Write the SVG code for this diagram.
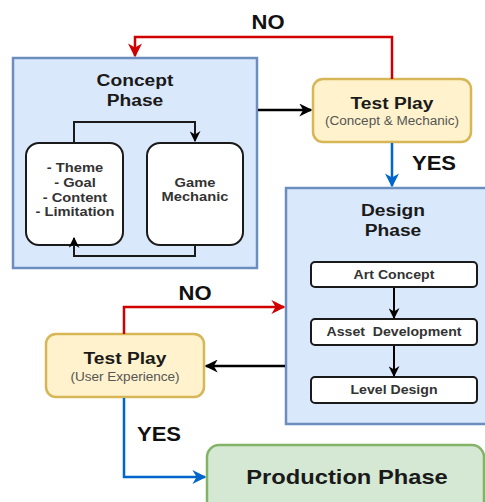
<svg xmlns="http://www.w3.org/2000/svg" width="485" height="502" viewBox="0 0 485 502">
<defs>
<marker id="ak" viewBox="0 0 10 10" refX="9" refY="5" markerWidth="13" markerHeight="13" orient="auto" markerUnits="userSpaceOnUse"><path d="M0,0 L10,5 L0,10 L3,5 Z" fill="#000"/></marker>
<marker id="ai" viewBox="0 0 10 10" refX="9" refY="5" markerWidth="11" markerHeight="11" orient="auto" markerUnits="userSpaceOnUse"><path d="M0,0 L10,5 L0,10 L3,5 Z" fill="#000"/></marker>
<marker id="ar" viewBox="0 0 10 10" refX="9" refY="5" markerWidth="14" markerHeight="14" orient="auto" markerUnits="userSpaceOnUse"><path d="M0,0 L10,5 L0,10 L3,5 Z" fill="#d00000"/></marker>
<marker id="au" viewBox="0 0 10 10" refX="9" refY="5" markerWidth="14" markerHeight="14" orient="auto" markerUnits="userSpaceOnUse"><path d="M0,0 L10,5 L0,10 L3,5 Z" fill="#0066cc"/></marker>
</defs>
<style>
text{font-family:"Liberation Sans",Arial,sans-serif;text-anchor:middle;dominant-baseline:central;fill:#1a1a1a}
.phase{fill:#dae8fc;stroke:#6c8ebf;stroke-width:2.5}
.test{fill:#fff2cc;stroke:#d6b656;stroke-width:2.5}
.prod{fill:#d5e8d4;stroke:#82b366;stroke-width:2.5}
.inner{fill:#fff;stroke:#1a1a1a;stroke-width:2}
.t1{font-size:17px;font-weight:bold}
.t2{font-size:12px;fill:#555}
.t3{font-size:13px;font-weight:bold;fill:#333}
.t4{font-size:12.5px;font-weight:bold;fill:#333}
.lbl{font-size:19.5px;font-weight:bold;fill:#111}
.c{fill:none;stroke-width:2.5}
.ci{fill:none;stroke-width:2}
</style>
<g id="concept">
<rect class="phase" x="13" y="58" width="244" height="210"/>
<text class="t1" transform="translate(135,80) scale(1.13,1)">Concept</text>
<text class="t1" transform="translate(135,100) scale(1.13,1)">Phase</text>
</g>
<g id="goals">
<rect class="inner" x="26" y="143" width="97" height="102" rx="13"/>
<text class="t3" transform="translate(75,167) scale(1.13,1)">- Theme</text>
<text class="t3" transform="translate(75,182) scale(1.13,1)">- Goal</text>
<text class="t3" transform="translate(75,197) scale(1.13,1)">- Content</text>
<text class="t3" transform="translate(75,211) scale(1.13,1)">- Limitation</text>
</g>
<g id="mechanic">
<rect class="inner" x="147" y="143" width="96" height="102" rx="13"/>
<text class="t3" transform="translate(195,182) scale(1.13,1)">Game</text>
<text class="t3" transform="translate(195,196) scale(1.13,1)">Mechanic</text>
</g>
<g id="test1">
<rect class="test" x="313" y="79" width="158" height="63" rx="10"/>
<text class="t1" transform="translate(392,103) scale(1.13,1)">Test Play</text>
<text class="t2" transform="translate(392,121) scale(1.13,1)">(Concept &amp; Mechanic)</text>
</g>
<g id="design">
<rect class="phase" x="286" y="188" width="210" height="236"/>
<text class="t1" transform="translate(393,210) scale(1.13,1)">Design</text>
<text class="t1" transform="translate(393,230) scale(1.13,1)">Phase</text>
</g>
<g id="art">
<rect class="inner" x="311" y="262" width="166" height="25" rx="4"/>
<text class="t4" transform="translate(394,275) scale(1.13,1)">Art Concept</text>
</g>
<g id="asset">
<rect class="inner" x="311" y="319" width="166" height="26" rx="4"/>
<text class="t4" transform="translate(394,332) scale(1.13,1)" xml:space="preserve">Asset  Development</text>
</g>
<g id="level">
<rect class="inner" x="311" y="377" width="166" height="26" rx="4"/>
<text class="t4" transform="translate(394,390) scale(1.13,1)">Level Design</text>
</g>
<g id="test2">
<rect class="test" x="46" y="334" width="158" height="63" rx="10"/>
<text class="t1" transform="translate(125,358) scale(1.13,1)">Test Play</text>
<text class="t2" transform="translate(125,377) scale(1.13,1)">(User Experience)</text>
</g>
<g id="production">
<rect class="prod" x="207" y="445" width="277" height="70" rx="12"/>
<text transform="translate(347,477) scale(1.13,1)" style="font-size:21px;font-weight:bold">Production Phase</text>
</g>
<g id="connectors">
<path class="c" d="M392,79 V37 H135 V56" stroke="#d00000" marker-end="url(#ar)"/>
<text class="lbl" transform="translate(268,22) scale(1.13,1)">NO</text>
<path class="c" d="M258,110 H311" stroke="#000" marker-end="url(#ak)"/>
<path class="c" d="M392,143 V186" stroke="#0066cc" marker-end="url(#au)"/>
<text class="lbl" transform="translate(434,163) scale(1.13,1)">YES</text>
<path class="ci" d="M74,142 V122 H195 V141" stroke="#1a1a1a" marker-end="url(#ai)"/>
<path class="ci" d="M195,246 V256 H74 V238" stroke="#1a1a1a" marker-end="url(#ai)"/>
<path class="ci" d="M394,288 V318" stroke="#000" marker-end="url(#ai)"/>
<path class="ci" d="M394,346 V376" stroke="#000" marker-end="url(#ai)"/>
<path class="c" d="M285,366 H206" stroke="#000" marker-end="url(#ak)"/>
<path class="c" d="M124,334 V307 H284" stroke="#d00000" marker-end="url(#ar)"/>
<text class="lbl" transform="translate(195,293) scale(1.13,1)">NO</text>
<path class="c" d="M124,398 V477 H205" stroke="#0066cc" marker-end="url(#au)"/>
<text class="lbl" transform="translate(159,434) scale(1.13,1)">YES</text>
</g>
</svg>
